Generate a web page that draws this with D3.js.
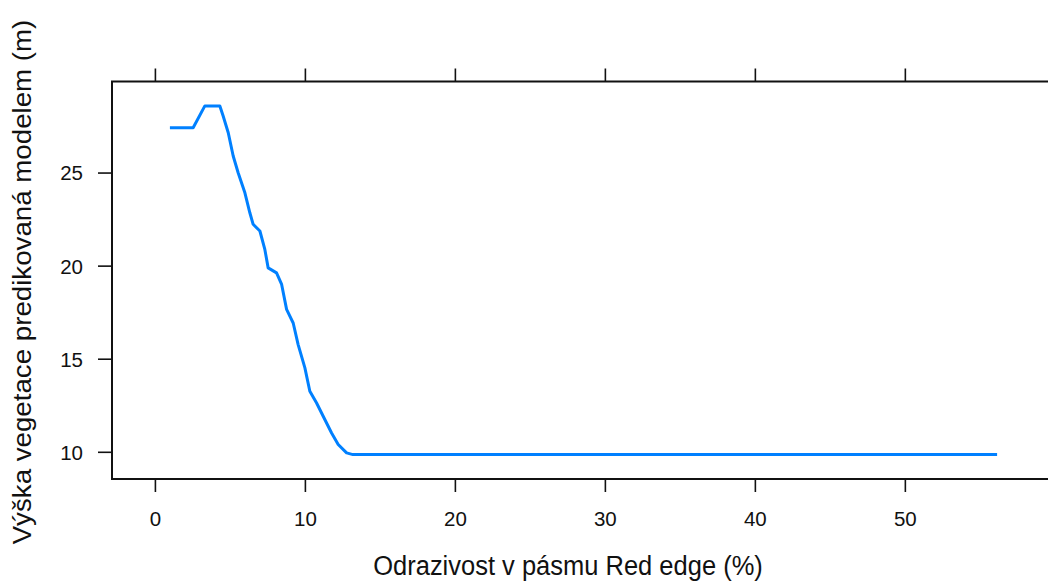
<!DOCTYPE html>
<html>
<head>
<meta charset="utf-8">
<script src="https://cdn.jsdelivr.net/npm/d3@7"></script>
<style>
  html, body { margin: 0; padding: 0; background: #fff; }
  svg { display: block; font-family: "Liberation Sans", Arial, sans-serif; }
</style>
</head>
<body>
<svg id="chart" width="1048" height="581"></svg>
<script>
// ---- data ----
const reflectance = [1.0, 2.55, 3.33, 4.33, 4.55, 4.89, 5.22, 5.55, 6.0, 6.33, 6.55, 7.0, 7.33, 7.55, 8.11, 8.45, 8.78, 9.22, 9.55, 10.0, 10.33, 10.78, 11.22, 11.78, 12.22, 12.78, 13.2, 56.15];
const predictedHeight = [27.41, 27.41, 28.58, 28.58, 28.04, 27.14, 25.89, 24.99, 23.91, 22.84, 22.22, 21.86, 20.87, 19.88, 19.61, 18.99, 17.65, 16.92, 15.76, 14.51, 13.25, 12.62, 11.91, 11.01, 10.39, 9.94, 9.85, 9.85];
const xTicks = [0, 10, 20, 30, 40, 50];
const yTicks = [10, 15, 20, 25];
const xTitle = "Odrazivost v pásmu Red edge (%)";
const yTitle = "Výška vegetace predikovaná modelem (m)";

// ---- layout ----
const svg = d3.select("#chart");
const pLeft = 112, pRight = 1055, pTop = 81.5, pBottom = 479;

// lattice-style 7% padding around data range
const xr = d3.extent(reflectance), yr = d3.extent(predictedHeight);
const xpad = (xr[1] - xr[0]) * 0.07, ypad = (yr[1] - yr[0]) * 0.07;
const x = d3.scaleLinear().domain([xr[0] - xpad, xr[1] + xpad]).range([pLeft, pRight]);
const y = d3.scaleLinear().domain([yr[0] - ypad, yr[1] + ypad]).range([pBottom, pTop]);

const tickLen = 13;

// bottom axis
const xb = svg.append("g").attr("transform", `translate(0,${pBottom})`)
  .call(d3.axisBottom(x).tickValues(xTicks).tickFormat(d3.format("d")).tickSize(tickLen));
// top axis (ticks only)
const xt = svg.append("g").attr("transform", `translate(0,${pTop})`)
  .call(d3.axisTop(x).tickValues(xTicks).tickFormat("").tickSize(tickLen));
// left axis
const yl = svg.append("g").attr("transform", `translate(${pLeft},0)`)
  .call(d3.axisLeft(y).tickValues(yTicks).tickFormat(d3.format("d")).tickSize(tickLen + 1).tickPadding(15));

[xb, xt, yl].forEach(g => {
  g.select(".domain").remove();
  g.selectAll(".tick line").attr("stroke", "#111").attr("stroke-width", 1.6);
  g.selectAll(".tick text").attr("fill", "#111").attr("font-size", 20.5)
    .attr("font-family", '"Liberation Sans", Arial, sans-serif');
});
xb.selectAll(".tick text").attr("dy", null).attr("y", 47);
yl.selectAll(".tick text").attr("dy", "0.36em");

// panel box
svg.append("rect")
  .attr("x", pLeft).attr("y", pTop)
  .attr("width", pRight - pLeft).attr("height", pBottom - pTop)
  .attr("fill", "none").attr("stroke", "#111").attr("stroke-width", 2);

// line
const line = d3.line().x((d, i) => x(reflectance[i])).y(d => y(d));
svg.append("path")
  .datum(predictedHeight)
  .attr("d", line)
  .attr("fill", "none")
  .attr("stroke", "#0080ff")
  .attr("stroke-width", 3)
  .attr("stroke-linejoin", "round");

// axis titles
svg.append("text")
  .attr("transform", "translate(568,574.5) scale(1,1.06)")
  .attr("text-anchor", "middle")
  .attr("font-size", 25.5)
  .attr("fill", "#111")
  .text(xTitle);

svg.append("text")
  .attr("transform", "translate(31,282) rotate(-90) scale(1.086,1)")
  .attr("text-anchor", "middle")
  .attr("font-size", 25.5)
  .attr("fill", "#111")
  .text(yTitle);
</script>
</body>
</html>
